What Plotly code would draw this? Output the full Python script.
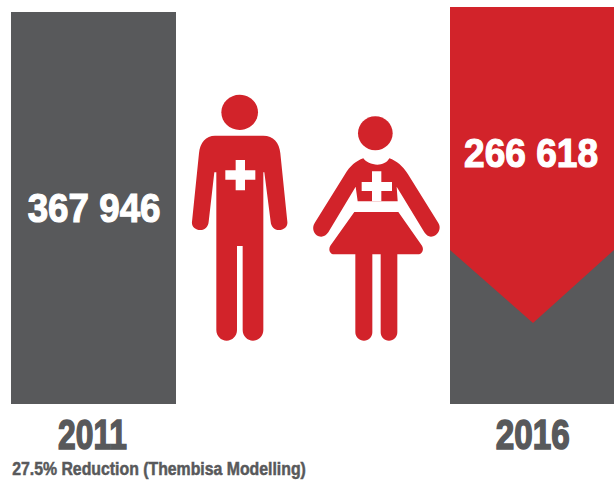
import json
import re
import plotly.graph_objects as go

W, H = 614, 481
GREY = "#58595b"
RED = "#d2232a"
FONT = "Liberation Sans"

# bar data, read in picture units above the common baseline
years = ["2011", "2016"]
bar_centres = [93.5, 532]
bar_widths = [165, 164]
bar_heights = [392, 397]
bar_labels = ["367 946", "266 618"]

# red downward arrow over the 2016 bar
arrow_x = [450, 614, 614, 533, 450, 450]
arrow_y = [397, 397, 154, 81, 154, 397]

caption = "27.5% Reduction (Thembisa Modelling)"
BASE_PY = 404

ZX0, ZY0, ZS = 180, 85, 3


def to_paper(path):
    def rep(m):
        x = (ZX0 + float(m.group(1)) / ZS) / W
        y = 1 - (ZY0 + float(m.group(2)) / ZS) / H
        return f"{x:.5f},{y:.5f}"
    return re.sub(r"(-?[\d.]+),(-?[\d.]+)", rep, path)


def ellipse(cx, cy, rx, ry):
    k = 0.5523
    return (f"M{cx-rx},{cy} C{cx-rx},{cy-k*ry} {cx-k*rx},{cy-ry} {cx},{cy-ry} "
            f"C{cx+k*rx},{cy-ry} {cx+rx},{cy-k*ry} {cx+rx},{cy} "
            f"C{cx+rx},{cy+k*ry} {cx+k*rx},{cy+ry} {cx},{cy+ry} "
            f"C{cx-k*rx},{cy+ry} {cx-rx},{cy+k*ry} {cx-rx},{cy} Z")


def cross(x0, x1, x2, x3, y0, y1, y2, y3):
    return (f"M{x1},{y0} L{x2},{y0} L{x2},{y1} L{x3},{y1} L{x3},{y2} L{x2},{y2} "
            f"L{x2},{y3} L{x1},{y3} L{x1},{y2} L{x0},{y2} L{x0},{y1} L{x1},{y1} Z")


man_body = ("M105,152 L250,152 C280,152 298,172 301,205 L322,410 "
            "C324,424 312,435 297,435 C283,435 273,424 272,410 L253,262 L250,262 "
            "L250,735 C250,753 236,767 219,767 C202,767 188,753 188,735 L188,483 L171,483 "
            "L171,735 C171,753 157,767 140,767 C123,767 109,753 109,735 L109,262 L103,262 "
            "L86,410 C85,424 75,435 61,435 C46,435 34,424 36,410 L57,205 C60,172 78,152 105,152 Z")

woman_top = ("M550,220 C562,240 612,250 628,220 C650,228 668,243 684,268 L775,414 "
             "C785,430 775,448 760,454 C748,458 740,452 733,442 L650,305 L653,349 L533,349 "
             "L527,305 L445,442 C438,452 428,458 416,454 C402,448 394,430 404,414 "
             "L495,268 C510,243 528,228 550,220 Z")

woman_low = ("M523,381 L655,381 L726,482 C733,494 726,508 714,508 L652,508 L652,742 "
             "C652,756 641,767 627,767 C613,767 602,756 602,742 L602,508 L577,508 L577,742 "
             "C577,756 566,767 552,767 C538,767 526,756 526,742 L526,508 L462,508 "
             "C450,508 444,494 451,482 Z")

red_paths = [ellipse(179, 82, 55, 53), man_body,
             ellipse(586, 145, 52, 51), woman_top, woman_low]
white_paths = [cross(136, 167, 195, 226, 225, 256, 284, 316),
               cross(545, 576, 604, 636, 259, 291, 318, 349)]

shapes = []
for p in red_paths:
    shapes.append(dict(type="path", xref="paper", yref="paper", path=to_paper(p),
                       fillcolor=RED, line=dict(width=0)))
for p in white_paths:
    shapes.append(dict(type="path", xref="paper", yref="paper", path=to_paper(p),
                       fillcolor="white", line=dict(width=0)))

fig = go.Figure()
fig.add_trace(go.Bar(x=bar_centres, y=bar_heights, width=bar_widths,
                     marker=dict(color=GREY, line=dict(width=0)),
                     hoverinfo="skip", showlegend=False))
fig.add_trace(go.Scatter(x=arrow_x, y=arrow_y, mode="lines", fill="toself",
                         fillcolor=RED, line=dict(width=0, color=RED),
                         hoverinfo="skip", showlegend=False))

annotations = []
target_widths = []
stroke_widths = []


def label(text, x, py, size, color, width, stroke):
    annotations.append(dict(text=f"<b>{text}</b>", x=x, y=BASE_PY - py, xref="x", yref="y",
                            showarrow=False, xanchor="center", yanchor="middle",
                            font=dict(family=FONT, size=size, color=color)))
    target_widths.append(width)
    stroke_widths.append(stroke)


label(bar_labels[0], 93.5, 208, 41, "white", 133, 1.2)
label(bar_labels[1], 531, 153, 41, "white", 134, 1.2)
label(years[0], 92, 434, 42, GREY, 69, 1.6)
label(years[1], 532, 434, 42, GREY, 74, 1.6)
label(caption, 159, 469, 18, GREY, 294, 0.5)

fig.update_layout(
    width=W, height=H, margin=dict(l=0, r=0, t=0, b=0),
    paper_bgcolor="white", plot_bgcolor="white",
    xaxis=dict(range=[0, W], visible=False, fixedrange=True),
    yaxis=dict(range=[BASE_PY - H, BASE_PY], visible=False, fixedrange=True),
    shapes=shapes, annotations=annotations, showlegend=False,
)
post = """
document.body.style.margin='0';
document.documentElement.style.overflow='hidden';
var tw = %s, sw = %s;
document.querySelectorAll('.annotation-text').forEach(function (t, i) {
  var w = t.getBBox().width;
  t.style.transformBox = 'fill-box';
  t.style.transformOrigin = 'center';
  t.style.transform = 'scaleX(' + (tw[i] / w) + ')';
  t.style.stroke = t.style.fill;
  t.style.strokeWidth = sw[i] + 'px';
});
""" % (json.dumps(target_widths), json.dumps(stroke_widths))
fig.write_html("out.html", config=dict(displayModeBar=False), post_script=post)
